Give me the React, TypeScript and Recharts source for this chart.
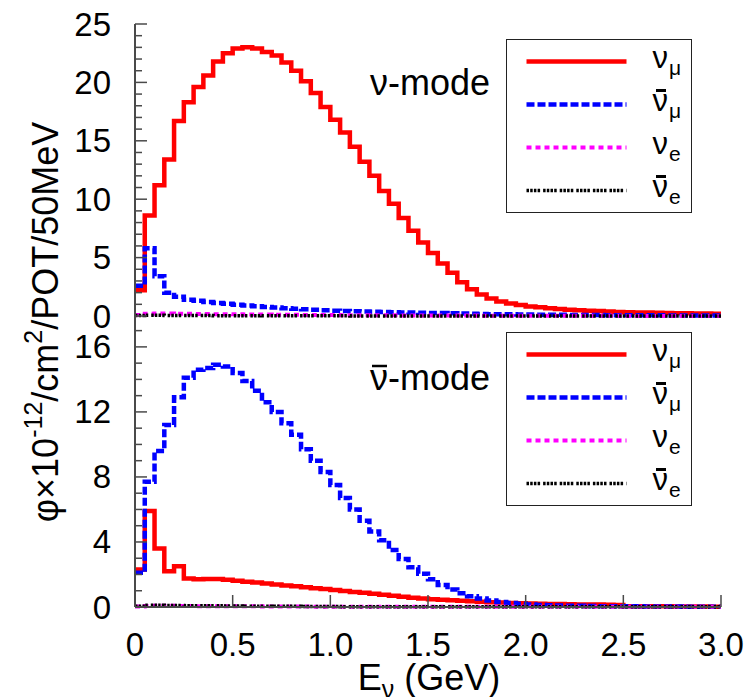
import React from "react";
import { LineChart, Line, XAxis, YAxis, Legend } from "recharts";

const FONT = '"Liberation Sans", Arial, Helvetica, sans-serif';
const FRAME = "#4a4a4a";

// 50 MeV bins from 0 to 3 GeV
const binWidth = 0.05;
const xTicks = [0, 0.5, 1, 1.5, 2, 2.5, 3];
const xTickLabels = ["0", "0.5", "1.0", "1.5", "2.0", "2.5", "3.0"];

const nuModeTicks = [0, 1, 2, 3, 4, 5, 6, 7, 8, 9, 10, 11, 12, 13, 14, 15, 16, 17, 18, 19, 20, 21, 22, 23, 24, 25];
const antiModeTicks = [0, 1, 2, 3, 4, 5, 6, 7, 8, 9, 10, 11, 12, 13, 14, 15, 16, 17];

// nu-mode flux
const nuModeNumu = [
  2.2, 8.6, 11.2, 13.4, 16.7, 18.3, 19.6, 20.6, 21.8, 22.5,
  22.9, 23.0, 22.9, 22.6, 22.3, 21.7, 21.0, 20.1, 19.1, 17.9,
  16.8, 15.7, 14.5, 13.2, 12.0, 10.7, 9.6, 8.4, 7.3, 6.3,
  5.4, 4.5, 3.7, 2.9, 2.3, 1.85, 1.5, 1.25, 1.07, 0.94,
  0.82, 0.74, 0.66, 0.6, 0.54, 0.49, 0.45, 0.42, 0.38, 0.35,
  0.33, 0.31, 0.29, 0.27, 0.25, 0.24, 0.23, 0.22, 0.21, 0.2,
];
const nuModeNumubar = [
  2.6, 5.8, 3.4, 2.0, 1.65, 1.4, 1.3, 1.2, 1.12, 1.04,
  0.96, 0.9, 0.84, 0.78, 0.72, 0.67, 0.62, 0.57, 0.53, 0.49,
  0.46, 0.43, 0.41, 0.39, 0.37, 0.35, 0.33, 0.31, 0.3, 0.28,
  0.26, 0.25, 0.23, 0.21, 0.19, 0.17, 0.16, 0.15, 0.14, 0.13,
  0.12, 0.11, 0.1, 0.1, 0.09, 0.09, 0.08, 0.08, 0.07, 0.07,
  0.07, 0.06, 0.06, 0.06, 0.05, 0.05, 0.05, 0.05, 0.04, 0.04,
];
const nuModeNue = [
  0.08, 0.2, 0.22, 0.22, 0.2, 0.19, 0.18, 0.17, 0.16, 0.15,
  0.14, 0.13, 0.12, 0.12, 0.11, 0.1, 0.1, 0.09, 0.09, 0.08,
  0.08, 0.07, 0.07, 0.07, 0.06, 0.06, 0.06, 0.05, 0.05, 0.05,
  0.05, 0.04, 0.04, 0.04, 0.04, 0.03, 0.03, 0.03, 0.03, 0.03,
  0.03, 0.02, 0.02, 0.02, 0.02, 0.02, 0.02, 0.02, 0.02, 0.02,
  0.01, 0.01, 0.01, 0.01, 0.01, 0.01, 0.01, 0.01, 0.01, 0.01,
];
const nuModeNuebar = [
  0.04, 0.07, 0.06, 0.05, 0.05, 0.04, 0.04, 0.04, 0.03, 0.03,
  0.03, 0.03, 0.03, 0.02, 0.02, 0.02, 0.02, 0.02, 0.02, 0.02,
  0.02, 0.02, 0.01, 0.01, 0.01, 0.01, 0.01, 0.01, 0.01, 0.01,
  0.01, 0.01, 0.01, 0.01, 0.01, 0.01, 0.01, 0.01, 0.01, 0.01,
  0.01, 0.01, 0.01, 0.01, 0.01, 0.01, 0.01, 0.01, 0.01, 0.01,
  0.01, 0.01, 0.01, 0.01, 0.01, 0.01, 0.01, 0.01, 0.01, 0.01,
];

// anti-nu-mode flux
const antiModeNumu = [
  2.3, 5.9, 3.6, 2.2, 2.5, 1.75, 1.7, 1.73, 1.73, 1.68,
  1.62, 1.56, 1.5, 1.45, 1.39, 1.33, 1.28, 1.22, 1.16, 1.1,
  1.05, 0.99, 0.93, 0.87, 0.81, 0.75, 0.69, 0.63, 0.57, 0.52,
  0.48, 0.44, 0.41, 0.38, 0.35, 0.32, 0.29, 0.27, 0.25, 0.23,
  0.21, 0.2, 0.19, 0.18, 0.17, 0.16, 0.15, 0.15, 0.14, 0.13,
  0.05, 0.05, 0.04, 0.04, 0.04, 0.03, 0.03, 0.03, 0.03, 0.02,
];
const antiModeNumubar = [
  2.1, 7.7, 9.6, 11.2, 12.9, 14.1, 14.6, 14.7, 14.9, 14.8,
  14.4, 13.9, 13.3, 12.6, 12.0, 11.3, 10.6, 9.7, 9.0, 8.3,
  7.5, 6.7, 6.0, 5.3, 4.65, 4.1, 3.5, 2.95, 2.45, 2.05,
  1.7, 1.35, 1.08, 0.85, 0.66, 0.52, 0.4, 0.31, 0.25, 0.2,
  0.16, 0.13, 0.11, 0.09, 0.08, 0.07, 0.06, 0.05, 0.05, 0.04,
  0.04, 0.04, 0.03, 0.03, 0.03, 0.03, 0.02, 0.02, 0.02, 0.02,
];
const antiModeNue = [
  0.03, 0.06, 0.07, 0.07, 0.06, 0.06, 0.05, 0.05, 0.05, 0.04,
  0.04, 0.04, 0.04, 0.03, 0.03, 0.03, 0.03, 0.03, 0.02, 0.02,
  0.02, 0.02, 0.02, 0.02, 0.02, 0.01, 0.01, 0.01, 0.01, 0.01,
  0.01, 0.01, 0.01, 0.01, 0.01, 0.01, 0.01, 0.01, 0.01, 0.01,
  0.01, 0.01, 0.01, 0.01, 0.01, 0.01, 0.01, 0.01, 0.01, 0.01,
  0.01, 0.01, 0.01, 0.01, 0.01, 0.01, 0.01, 0.01, 0.01, 0.01,
];
const antiModeNuebar = [
  0.05, 0.1, 0.1, 0.09, 0.09, 0.08, 0.08, 0.07, 0.07, 0.06,
  0.06, 0.05, 0.05, 0.05, 0.04, 0.04, 0.04, 0.03, 0.03, 0.03,
  0.03, 0.02, 0.02, 0.02, 0.02, 0.02, 0.02, 0.01, 0.01, 0.01,
  0.01, 0.01, 0.01, 0.01, 0.01, 0.01, 0.01, 0.01, 0.01, 0.01,
  0.01, 0.01, 0.01, 0.01, 0.01, 0.01, 0.01, 0.01, 0.01, 0.01,
  0.01, 0.01, 0.01, 0.01, 0.01, 0.01, 0.01, 0.01, 0.01, 0.01,
];

// histogram rows at the lower bin edges, plus a closing row at the last edge
function buildRows(numu: number[], numubar: number[], nue: number[], nuebar: number[]) {
  const rows = numu.map((_, i) => ({
    e: +(i * binWidth).toFixed(2),
    numu: numu[i],
    numubar: numubar[i],
    nue: nue[i],
    nuebar: nuebar[i],
  }));
  const last = rows[rows.length - 1];
  rows.push({ ...last, e: +(numu.length * binWidth).toFixed(2) });
  return rows;
}

const nuModeRows = buildRows(nuModeNumu, nuModeNumubar, nuModeNue, nuModeNuebar);
const antiModeRows = buildRows(antiModeNumu, antiModeNumubar, antiModeNue, antiModeNuebar);

const NuLabel = ({ bar, sub }: { bar?: boolean; sub: string }) => (
  <span style={{ fontSize: 31, lineHeight: "31px", whiteSpace: "nowrap", color: "#000" }}>
    <span style={{ position: "relative" }}>
      ν
      {bar && (
        <span style={{ position: "absolute", left: 3, right: 2, top: 6, height: 2.5, background: "#000" }} />
      )}
    </span>
    <span style={{ fontSize: 21, position: "relative", top: 7, marginLeft: 1 }}>{sub}</span>
  </span>
);

const series = [
  { key: "numu", color: "#ff0000", width: 4.5, dash: undefined as string | undefined, label: <NuLabel sub="μ" /> },
  { key: "numubar", color: "#0000ff", width: 4.5, dash: "8 3", label: <NuLabel bar sub="μ" /> },
  { key: "nue", color: "#ff00ff", width: 4, dash: "5 4", label: <NuLabel sub="e" /> },
  { key: "nuebar", color: "#000000", width: 3.5, dash: "2.5 1.2 2.5 1.2 2.5 1.2 2.5 3", label: <NuLabel bar sub="e" /> },
];

function LegendBox(props: any) {
  const keys = (props.payload || []).map((p: any) => p.dataKey);
  // keep the drawing order of the series, not the sorted payload order
  const items = series.filter((s) => keys.includes(s.key));
  return (
    <div
      style={{
        width: 186,
        height: 174,
        boxSizing: "border-box",
        border: "1.5px solid #222",
        background: "#fff",
        fontFamily: FONT,
      }}
    >
      {items.map((s) => (
        <div key={s.key} style={{ position: "relative", height: 43 }}>
          <svg width={130} height={43} style={{ position: "absolute", left: 0, top: 0 }}>
            <line x1={19.5} x2={119.5} y1={21.5} y2={21.5} stroke={s.color} strokeWidth={s.width} strokeDasharray={s.dash} />
          </svg>
          <div style={{ position: "absolute", left: 145.5, top: 2 }}>{s.label}</div>
        </div>
      ))}
    </div>
  );
}

const tickText = { fontFamily: FONT, fontSize: 33, fill: "#000" };

const LeftTick = (p: any) => {
  const major = p.payload.value % p.every === 0;
  return (
    <g>
      <line x1={p.x} x2={p.x + (major ? 12 : 7)} y1={p.y} y2={p.y} stroke={FRAME} strokeWidth={1.5} />
      {major && (
        <text x={p.x - 24} y={p.y} textAnchor="end" dominantBaseline="central" {...tickText}>
          {p.payload.value}
        </text>
      )}
    </g>
  );
};

const RightTick = (p: any) => {
  const major = p.payload.value % p.every === 0;
  return <line x1={p.x} x2={p.x - (major ? 12 : 7)} y1={p.y} y2={p.y} stroke={FRAME} strokeWidth={1.5} />;
};

const TopTick = (p: any) => <line x1={p.x} x2={p.x} y1={p.y} y2={p.y + 12} stroke={FRAME} strokeWidth={1.5} />;

const BottomTick = (p: any) => (
  <g>
    <line x1={p.x} x2={p.x} y1={p.y} y2={p.y - 12} stroke={FRAME} strokeWidth={1.5} />
    {p.labels && (
      <text x={p.x} y={p.y + 37} textAnchor="middle" dominantBaseline="central" {...tickText}>
        {xTickLabels[xTicks.indexOf(p.payload.value)]}
      </text>
    )}
  </g>
);

const frameLine = { stroke: FRAME, strokeWidth: 2 };

function Panel({
  rows,
  yMax,
  yTicks,
  every,
  height,
  margin,
  labels,
  legendTop,
}: {
  rows: any[];
  yMax: number;
  yTicks: number[];
  every: number;
  height: number;
  margin: { top: number; right: number; bottom: number; left: number };
  labels: boolean;
  legendTop: number;
}) {
  return (
    <LineChart width={751} height={height} data={rows} margin={margin}>
      <XAxis
        xAxisId="top"
        orientation="top"
        type="number"
        dataKey="e"
        domain={[0, 3]}
        ticks={xTicks}
        interval={0}
        height={0}
        tickSize={0}
        tickMargin={0}
        tickLine={false}
        axisLine={frameLine}
        tick={TopTick}
      />
      <XAxis
        xAxisId="bottom"
        orientation="bottom"
        type="number"
        dataKey="e"
        domain={[0, 3]}
        ticks={xTicks}
        interval={0}
        height={labels ? 50 : 0}
        tickSize={0}
        tickMargin={0}
        tickLine={false}
        axisLine={frameLine}
        tick={(p: any) => <BottomTick {...p} labels={labels} />}
      />
      <YAxis
        yAxisId="left"
        orientation="left"
        type="number"
        domain={[0, yMax]}
        ticks={yTicks}
        interval={0}
        width={135}
        tickSize={0}
        tickMargin={0}
        tickLine={false}
        axisLine={frameLine}
        tick={(p: any) => <LeftTick {...p} every={every} />}
      />
      <YAxis
        yAxisId="right"
        orientation="right"
        type="number"
        domain={[0, yMax]}
        ticks={yTicks}
        interval={0}
        width={0}
        tickSize={0}
        tickMargin={0}
        tickLine={false}
        axisLine={frameLine}
        tick={(p: any) => <RightTick {...p} every={every} />}
      />
      <Legend
        layout="vertical"
        align="center"
        verticalAlign="middle"
        wrapperStyle={{ left: 506, top: legendTop, width: 186, height: 174 }}
        content={LegendBox}
      />
      {series.map((s) => (
        <Line
          key={s.key}
          xAxisId="bottom"
          yAxisId="left"
          type="stepAfter"
          dataKey={s.key}
          name={s.key}
          stroke={s.color}
          strokeWidth={s.width}
          strokeDasharray={s.dash}
          strokeLinejoin="miter"
          dot={false}
          activeDot={false}
          isAnimationActive={false}
        />
      ))}
    </LineChart>
  );
}

export default function App() {
  return (
    <div
      style={{
        position: "absolute",
        left: 0,
        top: 0,
        width: 751,
        height: 697,
        background: "#fff",
        overflow: "hidden",
        fontFamily: FONT,
      }}
    >
      <div style={{ position: "absolute", left: 0, top: 0 }}>
        <Panel
          rows={nuModeRows}
          yMax={25}
          yTicks={nuModeTicks}
          every={5}
          height={345}
          margin={{ top: 24, right: 30, bottom: 29, left: 0 }}
          labels={false}
          legendTop={39}
        />
      </div>
      <div style={{ position: "absolute", left: 0, top: 300 }}>
        <Panel
          rows={antiModeRows}
          yMax={17.9}
          yTicks={antiModeTicks}
          every={4}
          height={397}
          margin={{ top: 16, right: 30, bottom: 40, left: 0 }}
          labels={true}
          legendTop={32}
        />
      </div>
      <svg
        width={751}
        height={697}
        style={{ position: "absolute", left: 0, top: 0, pointerEvents: "none" }}
        fontFamily={FONT}
      >
        <text x={370} y={95} fontSize={36} fill="#000">
          ν-mode
        </text>
        <text x={370} y={390} fontSize={36} fill="#000">
          ν-mode
        </text>
        <line x1={372} x2={387} y1={366} y2={366} stroke="#000" strokeWidth={2.5} />
        <text x={429} y={690} textAnchor="middle" fontSize={36} fill="#000">
          E
          <tspan fontSize={25} dy={8}>
            ν
          </tspan>
          <tspan dy={-8}>{"\u00a0(GeV)"}</tspan>
        </text>
        <text x={58} y={322} transform="rotate(-90 58 322)" textAnchor="middle" fontSize={36} fill="#000">
          φ×10
          <tspan fontSize={25} dy={-16}>
            -12
          </tspan>
          <tspan dy={16}>/cm</tspan>
          <tspan fontSize={25} dy={-16}>
            2
          </tspan>
          <tspan dy={16}>/POT/50MeV</tspan>
        </text>
      </svg>
    </div>
  );
}
